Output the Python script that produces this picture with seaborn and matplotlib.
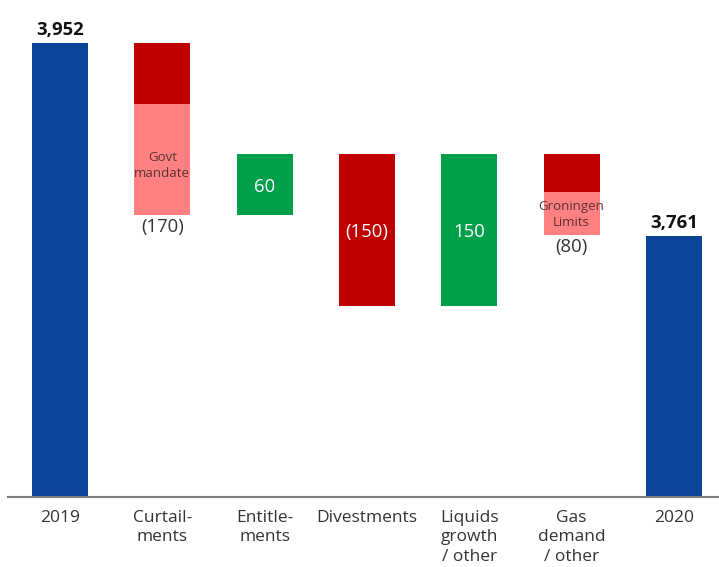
import matplotlib
matplotlib.use("Agg")
import matplotlib.pyplot as plt
import seaborn as sns
import pandas as pd
import numpy as np

categories = ["2019", "Curtail-\nments", "Entitle-\nments", "Divestments",
              "Liquids\ngrowth\n/ other", "Gas\ndemand\n/ other", "2020"]
start_value = 3952
changes = [-170, 60, -150, 150, -80]
end_value = 3761
# lighter sub-segments (lower part of negative bars)
sub_parts = [0, 110, 0, 0, 0, 43, 0]
sub_labels = ["", "Govt\nmandate", "", "", "", "Groningen\nLimits", ""]
value_labels = ["3,952", "(170)", "60", "(150)", "150", "(80)", "3,761"]

BLUE = "#0b4499"
RED = "#c00000"
PINK = "#ff8080"
GREEN = "#00a04b"

# build waterfall geometry
bottoms, heights, colors = [0], [start_value], [BLUE]
level = start_value
for c in changes:
    new = level + c
    bottoms.append(min(level, new))
    heights.append(abs(c))
    colors.append(GREEN if c > 0 else RED)
    level = new
bottoms.append(0)
heights.append(end_value)
colors.append(BLUE)

df = pd.DataFrame({"cat": categories, "h": heights, "b": bottoms})
df_sub = pd.DataFrame({"cat": categories, "h": sub_parts, "b": bottoms})

sns.set_style("white")
plt.rcParams["font.family"] = ["Open Sans", "DejaVu Sans"]

fig = plt.figure(figsize=(7.19, 5.67), dpi=100)
ax = fig.add_axes([8 / 719, 70 / 567, 711 / 719, 497 / 567])

sns.barplot(data=df, x="cat", y="h", bottom=df["b"].values, width=0.55,
            errorbar=None, ax=ax, order=categories, color=BLUE, saturation=1)
for p, col in zip(ax.patches, colors):
    p.set_facecolor(col)
    p.set_edgecolor("none")
n_main = len(ax.patches)
sns.barplot(data=df_sub, x="cat", y="h", bottom=df_sub["b"].values, width=0.55,
            errorbar=None, ax=ax, order=categories, color=PINK, saturation=1)
for p in ax.patches[n_main:]:
    p.set_facecolor(PINK)
    p.set_edgecolor("none")

ax.set_xlim(-0.508, 6.44)
ax.set_ylim(3502.7, 3994.6)

# labels
for i, lab in enumerate(value_labels):
    top = bottoms[i] + heights[i]
    if i in (0, 6):
        ax.text(i, top + 4, lab, ha="center", va="bottom", fontsize=13.3,
                fontweight="bold", color="#111111")
    elif sub_parts[i] > 0:
        ax.text(i, bottoms[i] - 3, lab, ha="center", va="top", fontsize=13.3,
                color="#333333")
        ax.text(i, bottoms[i] + sub_parts[i] / 2 + (-6 if i == 1 else -1), sub_labels[i],
                ha="center", va="center", fontsize=9.5, color="#5a3434",
                linespacing=1.25)
    else:
        ax.text(i, bottoms[i] + heights[i] / 2 - 2, lab, ha="center", va="center",
                fontsize=13.3, color="white")

sns.despine(ax=ax, left=True, top=True, right=True)
ax.spines["bottom"].set_color("#7f7f7f")
ax.spines["bottom"].set_linewidth(1.5)
ax.set_yticks([])
ax.set_xlabel("")
ax.set_ylabel("")
ax.tick_params(axis="x", length=0, pad=9, labelsize=12.5, labelcolor="#333333")
for t in ax.get_xticklabels():
    t.set_linespacing(1.32)

fig.savefig("out.png", dpi=100)
